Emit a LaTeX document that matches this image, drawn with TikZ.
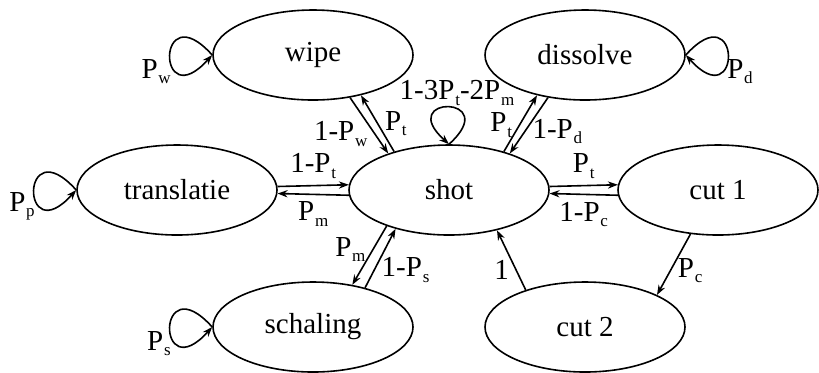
\documentclass[tikz,border=0pt]{standalone}
\usepackage{fontspec}
\setmainfont{Liberation Serif}
\usetikzlibrary{shapes.geometric,arrows.meta}
\newcommand{\tprob}[1]{P\raisebox{-2.6pt}{\fontsize{8.5pt}{9pt}\selectfont\kern.4pt#1}}

\begin{document}
\begin{tikzpicture}[x=0.5pt,y=-0.5pt,
  font=\fontsize{14.5pt}{17pt}\selectfont,
  state/.style={draw,ellipse,line width=.8pt,minimum width=100pt,minimum height=45pt,inner sep=0pt},
  flow/.style={-{Stealth[length=5pt,width=3.6pt]},line width=.8pt},
  selfloop/.style={flow,min distance=42pt}]
  \useasboundingbox (0,0) rectangle (819,372);

  % States
  \node[state] (wipe) at (313,55) {wipe};
  \node[state] (dissolve) at (585,55) {dissolve};
  \node[state] (translatie) at (177,190) {translatie};
  \node[state] (shot) at (449,190) {shot};
  \node[state] (cut1) at (718,190) {cut 1};
  \node[state] (schaling) at (313,327) {schaling};
  \node[state] (cut2) at (585,327) {cut 2};

  % Transitions to and from shot
  \draw[flow] (wipe.-49) -- node[pos=.65,left] {1-\tprob{w}} (shot.149);
  \draw[flow] (shot.145) -- node[pos=.5,right] {\tprob{t}} (wipe.-40);
  \draw[flow] (shot.35) -- node[pos=.47,left] {\tprob{t}} (dissolve.-140);
  \draw[flow] (dissolve.-131) -- node[pos=.6,right] {1-\tprob{d}} (shot.31);
  \draw[flow] (translatie.2.5) -- node[above] {1-\tprob{t}} (shot.177.5);
  \draw[flow] (shot.-177.5) -- node[below] {\tprob{m}} (translatie.-2.5);
  \draw[flow] (shot.2.5) -- node[above] {\tprob{t}} (cut1.177.5);
  \draw[flow] (cut1.-177.5) -- node[below] {1-\tprob{c}} (shot.-2.5);
  \draw[flow] (shot.-150.5) -- node[pos=.4,left] {\tprob{m}} (schaling.47);
  \draw[flow] (schaling.37) -- node[pos=.3,right] {1-\tprob{s}} (shot.-144);
  \draw[flow] (cut1.-122) -- node[pos=.6,right] {\tprob{c}} (cut2.24);
  \draw[flow] (cut2.148) -- node[pos=.33,left] {1} (shot.-40);

  % Self loops
  \draw[selfloop,min distance=37pt] (shot.north) to[out=42,in=138] node[pos=.5,above,inner sep=0pt,xshift=4pt,yshift=.5pt] {1-3\tprob{t}-2\tprob{m}} (shot.north);
  \draw[selfloop] (wipe.west) to[out=132,in=228] node[pos=.72,left] {\tprob{w}} (wipe.west);
  \draw[selfloop] (translatie.west) to[out=132,in=228] node[pos=.72,left] {\tprob{p}} (translatie.west);
  \draw[selfloop] (schaling.west) to[out=132,in=228] node[pos=.72,left] {\tprob{s}} (schaling.west);
  \draw[selfloop] (dissolve.east) to[out=48,in=-48] node[pos=.72,right] {\tprob{d}} (dissolve.east);
\end{tikzpicture}
\end{document}
